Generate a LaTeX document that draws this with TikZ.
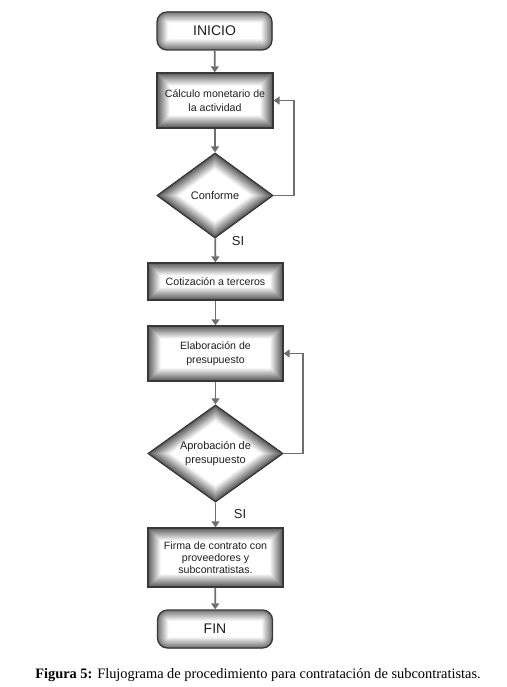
\documentclass[tikz,border=0pt]{standalone}
\usepackage{fontspec}
\setmainfont{Liberation Sans}
\newfontfamily\capfont{Liberation Serif}
\usetikzlibrary{shapes.geometric,arrows.meta}
\tikzset{
  glowbase/.style={draw=black!78, line width=1.3pt, fill=white, inner sep=0pt, align=center,
    font=\fontsize{10.6}{14}\selectfont, text=black!88},
  glowrect/.style={glowbase, rectangle, minimum width=#1,
    path picture={\foreach \i [evaluate=\i as \gw using 26-2*\i, evaluate=\i as \gc using 3+5*\i] in {0,...,12}{
      \draw[line width=\gw pt, black!\gc] (path picture bounding box.south west) rectangle (path picture bounding box.north east);}}},
  glowround/.style={glowbase, rectangle, rounded corners=10pt, minimum width=115pt, minimum height=38pt,
    font=\fontsize{14}{16}\selectfont,
    path picture={\foreach \i [evaluate=\i as \gw using 22-2*\i, evaluate=\i as \gc using 3+5*\i] in {0,...,10}{
      \draw[line width=\gw pt, black!\gc, rounded corners=10pt] (path picture bounding box.south west) rectangle (path picture bounding box.north east);}}},
  glowdiam/.style={glowbase, diamond, font=\fontsize{11}{14}\selectfont,
    path picture={\foreach \i [evaluate=\i as \gw using 26-2*\i, evaluate=\i as \gc using 3+5*\i] in {0,...,12}{
      \draw[line width=\gw pt, black!\gc, line join=miter] (path picture bounding box.north) -- (path picture bounding box.east) -- (path picture bounding box.south) -- (path picture bounding box.west) -- cycle;}}},
  arr/.style={draw=black!57, line width=1.8pt, -{Triangle[width=8pt,length=6pt]}},
  silbl/.style={font=\fontsize{13}{15}\selectfont, text=black!88},
}
\begin{document}
\begin{tikzpicture}[x=1pt,y=-1pt]
\useasboundingbox (0,0) rectangle (506,687);
\node[glowround] (inicio) at (214.5,31) {INICIO};
\node[glowrect=116pt, minimum height=55pt] (b1) at (215,100.5) {Cálculo monetario de\\la actividad};
\node[glowdiam, minimum width=116pt, minimum height=85pt] (d1) at (215,195.5) {Conforme};
\node[glowrect=135pt, minimum height=37pt] (b2) at (215.5,281.5) {Cotización a terceros};
\node[glowrect=135pt, minimum height=55pt] (b3) at (215.5,353.5) {Elaboración de\\presupuesto};
\node[glowdiam, minimum width=135pt, minimum height=97pt] (d2) at (215.5,453.5) {Aprobación de\\presupuesto};
\node[glowrect=135pt, minimum height=59pt, font=\fontsize{10.6}{12}\selectfont] (b4) at (215.5,557.5) {Firma de contrato con\\proveedores y\\subcontratistas.};
\node[glowround] (fin) at (215,629) {FIN};
\node[silbl] (si1) at (238,241) {SI};
\node[silbl] (si2) at (240,514) {SI};
\node[font=\capfont\fontsize{14.4}{16}\selectfont] (cap) at (258,675) {\textbf{Figura 5:} Flujograma de procedimiento para contratación de subcontratistas.};
\draw[arr] (inicio) -- (b1);
\draw[arr] (b1) -- (d1);
\draw[arr] (d1.east) -- ++(20,0) |- (b1.east);
\draw[arr] (d1) -- (b2);
\draw[arr] (b2) -- (b3);
\draw[arr] (b3) -- (d2);
\draw[arr] (d2.east) -- ++(19,0) |- (b3.east);
\draw[arr] (d2) -- (b4);
\draw[arr] (b4) -- (fin);
\end{tikzpicture}
\end{document}
